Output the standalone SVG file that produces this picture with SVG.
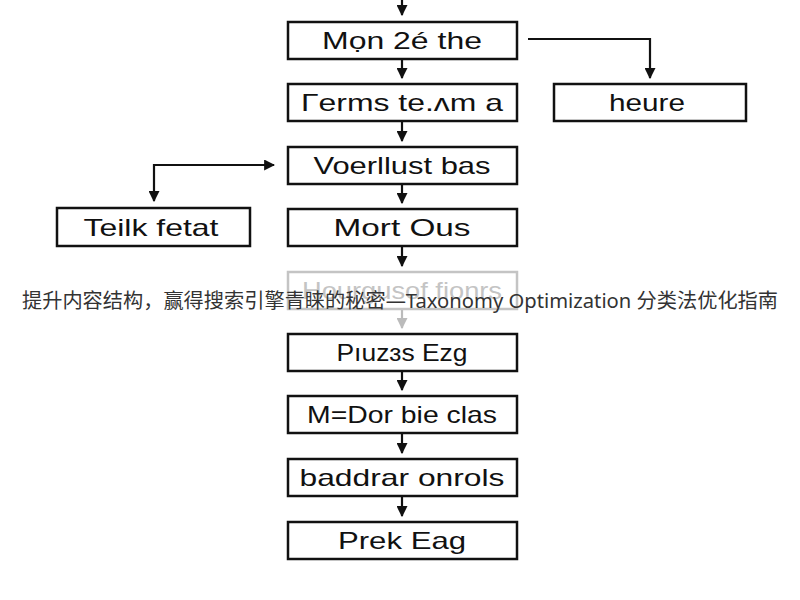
<svg xmlns="http://www.w3.org/2000/svg" width="800" height="600" viewBox="0 0 800 600">
<defs>
<marker id="ah" viewBox="0 0 10 10" refX="9" refY="5" markerWidth="5" markerHeight="5" orient="auto-start-reverse" markerUnits="strokeWidth">
<path d="M0,0 L10,5 L0,10 z" fill="#111"/>
</marker>
<marker id="ahg" viewBox="0 0 10 10" refX="9" refY="5" markerWidth="5" markerHeight="5" orient="auto" markerUnits="strokeWidth">
<path d="M0,0 L10,5 L0,10 z" fill="#bbb"/>
</marker>
</defs>
<style>
.box{fill:#fff;stroke:#111;stroke-width:2.5}
.fbox{fill:#fff;stroke:#c4c4c4;stroke-width:2.5}
.lbl{font-family:"Liberation Sans",Arial,sans-serif;font-size:24px;fill:#111;text-anchor:middle}
.flbl{font-family:"Liberation Sans",Arial,sans-serif;font-size:24px;fill:#c4c4c4;text-anchor:middle}
.con{fill:none;stroke:#111;stroke-width:2.2}
.fcon{fill:none;stroke:#bbb;stroke-width:2.2}
.title{font-family:"Noto Sans","Noto Sans CJK SC",sans-serif;font-size:20px;fill:#333}
</style>
<rect width="800" height="600" fill="#fff"/>
<g id="connectors">
<path class="con" d="M402,0 V15" marker-end="url(#ah)"/>
<path class="con" d="M402,60 V78" marker-end="url(#ah)"/>
<path class="con" d="M402,122 V141" marker-end="url(#ah)"/>
<path class="con" d="M402,185 V203" marker-end="url(#ah)"/>
<path class="con" d="M402,247 V266" marker-end="url(#ah)"/>
<path class="fcon" d="M402,310 V328" marker-end="url(#ahg)"/>
<path class="con" d="M402,372 V390" marker-end="url(#ah)"/>
<path class="con" d="M402,434 V453" marker-end="url(#ah)"/>
<path class="con" d="M402,497 V516" marker-end="url(#ah)"/>
<path class="con" d="M528,39 H650 V78" marker-end="url(#ah)"/>
<path class="con" d="M154,201 V165 H274" marker-start="url(#ah)" marker-end="url(#ah)"/>
</g>
<g id="n1"><rect class="box" x="288" y="22" width="229" height="37"/><text class="lbl" x="402" y="49" textLength="160" lengthAdjust="spacingAndGlyphs">Mọn 2é the</text></g>
<g id="n2"><rect class="box" x="288" y="84" width="229" height="37"/><text class="lbl" x="402" y="111" textLength="202" lengthAdjust="spacingAndGlyphs">Γerms te.ʌm a</text></g>
<g id="n3"><rect class="box" x="288" y="147" width="229" height="37"/><text class="lbl" x="402" y="174" textLength="177" lengthAdjust="spacingAndGlyphs">Voerllust bas</text></g>
<g id="n4"><rect class="box" x="288" y="209" width="229" height="37"/><text class="lbl" x="402" y="236" textLength="137" lengthAdjust="spacingAndGlyphs">Mort Ous</text></g>
<g id="n5"><rect class="fbox" x="288" y="272" width="229" height="37"/><text class="flbl" x="402" y="299" textLength="200" lengthAdjust="spacingAndGlyphs">Hourgusof fionrs</text></g>
<g id="n6"><rect class="box" x="288" y="334" width="229" height="37"/><text class="lbl" x="402" y="361" textLength="131" lengthAdjust="spacingAndGlyphs">Pıuzɜs Ezg</text></g>
<g id="n7"><rect class="box" x="288" y="396" width="229" height="37"/><text class="lbl" x="402" y="423" textLength="190" lengthAdjust="spacingAndGlyphs">M=Dor bie clas</text></g>
<g id="n8"><rect class="box" x="288" y="459" width="229" height="37"/><text class="lbl" x="402" y="486" textLength="205" lengthAdjust="spacingAndGlyphs">baddrar onrols</text></g>
<g id="n9"><rect class="box" x="288" y="522" width="229" height="37"/><text class="lbl" x="402" y="549" textLength="128" lengthAdjust="spacingAndGlyphs">Prek Eag</text></g>
<g id="nr"><rect class="box" x="554" y="84" width="192" height="37"/><text class="lbl" x="647" y="111" textLength="76" lengthAdjust="spacingAndGlyphs">heure</text></g>
<g id="nl"><rect class="box" x="57" y="208" width="193" height="38"/><text class="lbl" x="151" y="236" textLength="135" lengthAdjust="spacingAndGlyphs">Teilk fetat</text></g>
<text class="title" x="22" y="308" textLength="756" lengthAdjust="spacingAndGlyphs">提升内容结构，赢得搜索引擎青睐的秘密—Taxonomy Optimization 分类法优化指南</text>
</svg>
